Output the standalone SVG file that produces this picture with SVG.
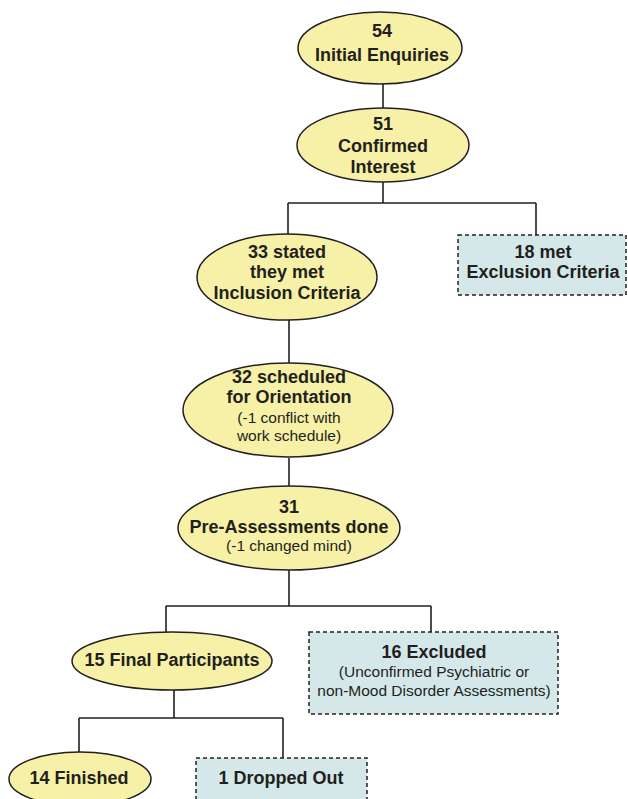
<svg xmlns="http://www.w3.org/2000/svg" width="628" height="799" viewBox="0 0 628 799">
<style>
.ell{fill:#f6f1a6;stroke:#231f20;stroke-width:1.5}
.box{fill:#d4e8ea;stroke:#231f20;stroke-width:1.5;stroke-dasharray:4 3}
.con{fill:none;stroke:#231f20;stroke-width:1.6}
text{font-family:"Liberation Sans",Arial,sans-serif;fill:#231f20;text-anchor:middle}
.b{font-weight:bold;font-size:18px}
.r{font-size:15.5px}
</style>
<rect width="628" height="799" fill="#ffffff"/>
<g id="connectors">
<path class="con" d="M383 84V109"/>
<path class="con" d="M383 182V203M288 203H536M288 203V234M536 203V235"/>
<path class="con" d="M289 320V363"/>
<path class="con" d="M289 458V487"/>
<path class="con" d="M289 570V606M166 606H431M166 606V632M431 606V632"/>
<path class="con" d="M174 690V718M79 718H283M79 718V752M283 718V758"/>
</g>
<g id="n54">
<ellipse class="ell" cx="380" cy="48" rx="82" ry="36"/>
<text class="b" x="382" y="37">54</text>
<text class="b" x="382" y="61">Initial Enquiries</text>
</g>
<g id="n51">
<ellipse class="ell" cx="383" cy="145" rx="86" ry="37"/>
<text class="b" x="383" y="130">51</text>
<text class="b" x="383" y="152">Confirmed</text>
<text class="b" x="383" y="173">Interest</text>
</g>
<g id="n33">
<ellipse class="ell" cx="287" cy="277" rx="90" ry="43"/>
<text class="b" x="287" y="258">33 stated</text>
<text class="b" x="287" y="278">they met</text>
<text class="b" x="287" y="299">Inclusion Criteria</text>
</g>
<g id="n18">
<rect class="box" x="458" y="235" width="168" height="60"/>
<text class="b" x="543" y="258">18 met</text>
<text class="b" x="543" y="278">Exclusion Criteria</text>
</g>
<g id="n32">
<ellipse class="ell" cx="288" cy="410" rx="105" ry="47"/>
<text class="b" x="289" y="383">32 scheduled</text>
<text class="b" x="289" y="403">for Orientation</text>
<text class="r" x="289" y="423">(-1 conflict with</text>
<text class="r" x="289" y="441">work schedule)</text>
</g>
<g id="n31">
<ellipse class="ell" cx="289" cy="528" rx="111" ry="42"/>
<text class="b" x="289" y="513">31</text>
<text class="b" x="289" y="533">Pre-Assessments done</text>
<text class="r" x="289" y="551">(-1 changed mind)</text>
</g>
<g id="n15">
<ellipse class="ell" cx="172" cy="661" rx="100" ry="29"/>
<text class="b" x="172" y="666">15 Final Participants</text>
</g>
<g id="n16">
<rect class="box" x="309" y="632" width="249" height="82"/>
<text class="b" x="434" y="658">16 Excluded</text>
<text class="r" x="434" y="677">(Unconfirmed Psychiatric or</text>
<text class="r" x="434" y="696">non-Mood Disorder Assessments)</text>
</g>
<g id="n14">
<ellipse class="ell" cx="80" cy="779" rx="71" ry="27"/>
<text class="b" x="79" y="784">14 Finished</text>
</g>
<g id="n1">
<rect class="box" x="196" y="758" width="171" height="60"/>
<text class="b" x="281" y="784">1 Dropped Out</text>
</g>
</svg>
